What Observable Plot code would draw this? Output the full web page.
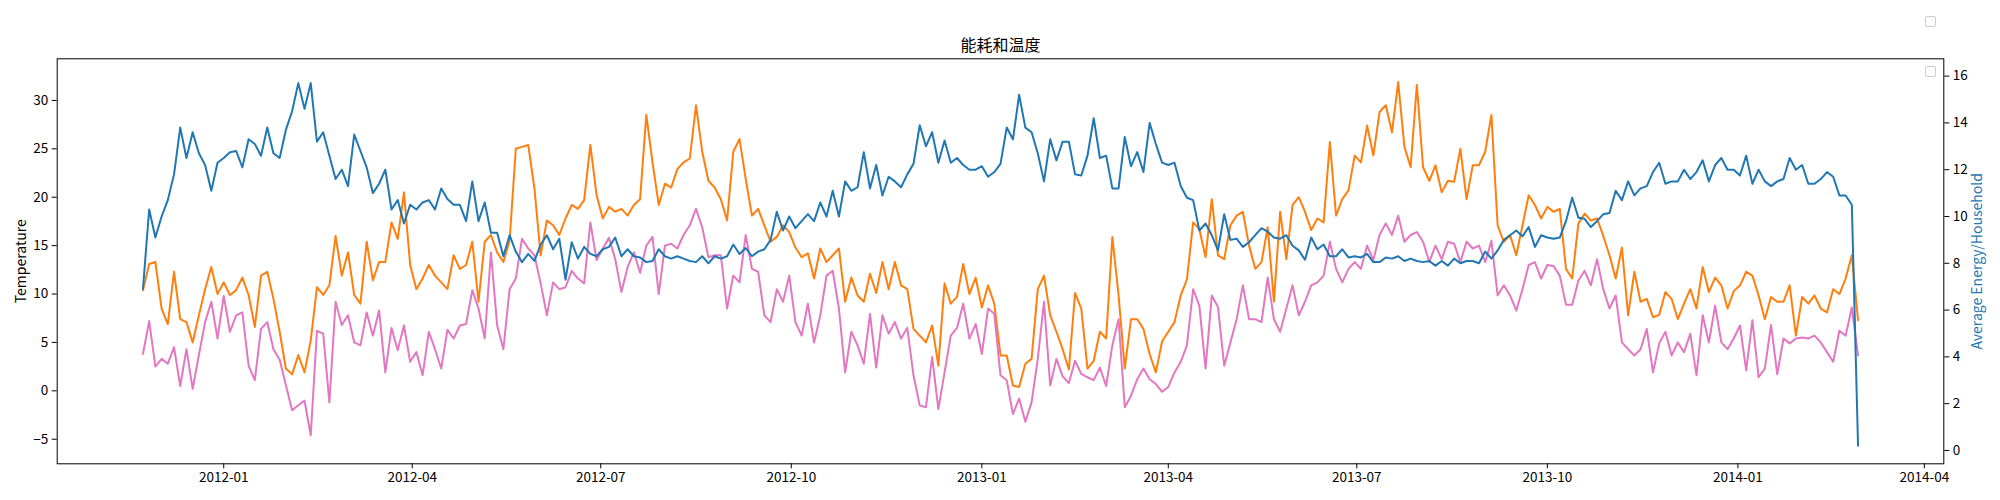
<!DOCTYPE html>
<html><head><meta charset="utf-8">
<script src="https://cdn.jsdelivr.net/npm/d3@7"></script>
<script src="https://cdn.jsdelivr.net/npm/@observablehq/plot@0.6"></script>
<style>
body{margin:0;background:#fff;}
#wrap{position:relative;width:2000px;height:500px;font-family:"Noto Sans CJK SC",sans-serif;}
#wrap svg{position:absolute;left:0;top:0;}
.lg{position:absolute;width:11px;height:11px;box-sizing:border-box;border:1px solid #cccccc;border-radius:2px;background:#fff;}
</style></head><body><div id="wrap"></div>
<script>
// ---- data (sampled every 3 days from 2011-11-23 to 2014-02-28) ----
const startDate = "2011-11-23";
const stepDays = 3;
const titleText = "能耗和温度";
const leftLabel = "Temperature";
const rightLabel = "Average Energy/Household";

const energy = [
 6.9,10.3,9.1,10.0,10.7,11.8,13.8,12.5,13.6,12.7,
 12.2,11.1,12.3,12.5,12.75,12.8,12.1,13.3,13.1,12.6,
 13.8,12.7,12.5,13.7,14.5,15.7,14.6,15.7,13.2,13.6,
 12.6,11.6,12.0,11.3,13.5,12.8,12.1,11.0,11.4,12.0,
 10.3,10.7,9.7,10.5,10.3,10.6,10.7,10.3,11.2,10.75,
 10.5,10.5,9.8,11.5,9.8,10.6,9.3,9.3,8.3,9.2,
 8.5,8.05,8.4,8.1,8.8,9.2,8.6,9.05,7.3,8.9,
 8.2,8.7,8.4,8.3,8.6,8.7,9.1,8.3,8.6,8.3,
 8.25,8.05,8.1,8.6,8.3,8.2,8.3,8.2,8.1,8.05,
 8.3,8.0,8.3,8.2,8.3,8.8,8.4,8.65,8.3,8.5,
 8.6,9.0,10.2,9.4,10.0,9.5,9.8,10.1,9.8,10.6,
 10.0,11.1,10.0,11.5,11.1,11.25,12.75,11.2,12.2,10.9,
 11.7,11.5,11.25,11.8,12.25,13.9,13.0,13.6,12.3,13.25,
 12.3,12.5,12.2,12.0,12.0,12.15,11.7,11.9,12.25,13.8,
 13.3,15.2,13.8,13.6,12.7,11.5,13.3,12.4,13.2,13.2,
 11.8,11.75,12.6,14.2,12.5,12.6,11.2,11.2,13.4,12.15,
 12.75,11.9,14.0,13.1,12.3,12.2,12.3,11.3,10.8,10.7,
 9.4,9.7,9.2,8.55,10.1,9.0,9.05,8.7,8.9,9.2,
 9.5,9.35,9.1,9.05,9.2,8.75,8.55,8.15,9.1,8.6,
 8.8,8.3,8.3,8.6,8.25,8.3,8.25,8.4,8.05,8.05,
 8.25,8.2,8.3,8.1,8.2,8.1,8.05,8.1,7.9,8.1,
 7.9,8.2,8.0,8.1,8.1,8.0,8.5,8.2,8.55,9.0,
 9.2,9.4,9.15,9.55,8.7,9.2,9.1,9.05,9.1,9.8,
 10.8,9.95,9.9,9.55,9.8,10.1,10.15,11.1,10.7,11.5,
 10.9,11.2,11.3,11.9,12.3,11.4,11.5,11.5,12.0,11.6,
 11.9,12.4,11.5,12.2,12.5,12.0,12.0,11.75,12.6,11.4,
 12.0,11.5,11.3,11.5,11.6,12.5,12.0,12.2,11.4,11.4,
 11.6,11.9,11.7,10.9,10.9,10.5,0.2
];

const tempMax = [
 10.4,13.1,13.3,8.5,6.9,12.3,7.4,7.1,5.0,7.8,
 10.5,12.8,10.0,11.2,9.9,10.4,11.7,9.9,6.6,11.9,
 12.3,9.5,6.1,2.3,1.7,3.7,1.9,5.2,10.7,9.9,
 10.9,16.0,11.9,14.3,9.9,9.0,15.4,11.4,13.3,13.3,
 17.4,15.7,20.5,13.0,10.5,11.6,13.0,11.9,11.2,10.5,
 14.0,12.6,13.0,15.4,9.2,15.4,16.1,14.3,13.3,15.5,
 25.0,25.2,25.4,20.9,14.0,17.6,17.1,16.1,17.8,19.2,
 18.8,19.7,25.4,20.2,17.8,19.0,18.5,18.8,18.1,19.2,
 19.8,28.5,23.6,19.2,21.4,21.0,22.9,23.6,24.0,29.5,
 24.7,21.7,21.0,19.8,17.6,24.7,26.0,21.9,18.1,18.8,
 17.1,15.4,15.9,17.1,16.4,14.8,13.8,14.2,11.6,14.7,
 13.3,14.0,14.7,9.2,11.7,9.85,9.2,12.1,10.1,13.3,
 10.5,13.3,10.9,10.5,6.4,5.7,5.0,6.75,2.6,11.1,
 9.0,9.7,13.1,10.0,11.7,8.6,10.9,9.0,3.65,3.65,
 0.55,0.4,2.8,3.3,10.5,11.9,7.8,6.1,4.3,2.2,
 10.1,8.5,2.3,3.1,6.1,5.4,15.9,9.85,2.3,7.4,
 7.4,6.4,3.8,1.9,5.1,6.1,7.1,9.85,11.5,17.4,
 16.7,13.8,19.8,14.0,13.6,17.1,18.1,18.5,15.0,12.6,
 13.3,16.9,9.2,18.5,13.6,19.2,20.0,18.5,16.6,17.8,
 17.4,25.7,18.1,19.8,20.7,24.3,23.6,27.4,24.3,28.8,
 29.5,26.7,31.9,25.2,23.1,31.6,23.1,21.7,23.3,20.5,
 21.7,21.6,25.0,19.8,23.3,23.3,24.7,28.5,17.1,15.4,
 16.1,14.0,17.1,20.2,19.2,17.8,19.0,18.5,18.8,12.6,
 11.6,17.3,18.3,17.6,17.8,16.0,14.0,11.6,14.8,7.8,
 12.3,9.2,9.5,7.6,7.85,10.2,9.5,7.4,9.0,10.5,
 8.5,12.8,10.2,11.7,10.9,8.5,10.3,10.9,12.3,11.9,
 9.85,7.4,9.7,9.2,9.2,10.9,5.7,9.7,9.0,9.85,
 8.5,8.1,10.5,10.0,11.6,14.0,7.3
];

const tempMin = [
 3.8,7.2,2.5,3.3,2.8,4.5,0.5,4.3,0.2,3.7,
 7.1,9.2,5.4,9.8,6.1,7.8,8.1,2.6,1.1,6.4,
 7.1,4.3,3.2,0.6,-2.0,-1.5,-1.0,-4.6,6.2,5.9,
 -1.2,9.2,6.8,7.8,5.0,4.7,8.1,5.7,8.3,1.9,
 6.5,4.2,6.75,3.0,4.0,1.6,6.1,4.3,2.3,6.3,
 5.4,6.75,6.9,10.4,8.5,5.4,14.3,6.75,4.3,10.5,
 11.6,15.7,14.7,14.0,11.1,7.8,11.2,10.5,10.7,12.4,
 11.6,11.1,17.4,13.5,14.7,15.8,13.6,10.2,12.8,14.3,
 12.2,15.0,15.9,10.0,15.0,15.2,14.7,16.1,17.1,18.8,
 16.9,13.8,14.0,14.0,8.5,11.9,11.2,16.1,12.6,12.3,
 7.8,7.1,10.5,9.2,11.9,7.1,5.7,9.0,5.0,7.8,
 11.9,12.4,8.5,1.9,6.1,4.7,2.8,7.95,2.4,7.8,
 5.9,7.1,5.4,6.5,1.6,-1.5,-1.7,3.5,-1.9,1.9,
 5.7,6.5,9.0,5.4,6.9,3.8,8.5,7.95,1.6,1.1,
 -2.4,-0.8,-3.2,-1.2,3.3,9.2,0.55,3.3,1.5,0.8,
 3.1,1.75,1.4,1.1,2.4,0.5,4.7,7.4,-1.7,-0.5,
 1.2,2.3,1.2,0.7,-0.1,0.4,1.9,3.0,4.7,10.5,
 8.8,2.3,9.85,8.65,2.6,5.0,7.4,10.9,7.4,7.4,
 7.1,11.7,7.4,6.1,8.5,10.9,7.8,9.2,10.9,11.2,
 11.9,15.4,12.6,11.2,12.6,13.3,12.6,15.0,13.5,16.1,
 17.3,16.1,18.1,15.4,16.1,16.4,15.4,13.3,15.0,13.6,
 15.4,15.2,13.3,15.4,14.7,15.0,13.3,15.5,9.85,10.9,
 9.85,8.3,10.5,13.0,13.3,11.6,13.0,12.9,11.9,8.9,
 8.9,11.4,12.4,10.9,13.6,10.5,8.5,9.85,5.0,4.3,
 3.65,4.3,6.4,1.9,4.9,6.1,3.65,5.0,4.0,5.9,
 1.6,7.8,5.0,8.8,5.0,4.3,5.4,6.75,2.1,7.3,
 1.4,2.3,6.8,1.7,5.4,4.9,5.4,5.5,5.4,5.7,
 5.0,4.0,3.0,6.2,5.7,8.6,3.65
];

const leftTicks = [-5, 0, 5, 10, 15, 20, 25, 30];
const rightTicks = [0, 2, 4, 6, 8, 10, 12, 14, 16];
const xTickLabels = ["2012-01","2012-04","2012-07","2012-10","2013-01","2013-04","2013-07","2013-10","2014-01","2014-04"];

// ---- build tables ----
const DAY = 864e5;
const t0 = Date.parse(startDate + "T00:00:00Z");
const toRows = arr => arr.map((v, i) => ({date: new Date(t0 + i * stepDays * DAY), v}));
const energyRows = toRows(energy);
const maxRows = toRows(tempMax);
const minRows = toRows(tempMin);
const spanDays = (energy.length - 1) * stepDays;
const pad = spanDays * 0.05;
const xDomain = [new Date(t0 - pad * DAY), new Date(t0 + (spanDays + pad) * DAY)];
const xTicks = xTickLabels.map(s => new Date(s + "-01T00:00:00Z"));

const W = 2000, H = 500, mL = 56.7, mR = 56.7, mT = 58.3, mB = 36.7;
const FONT = '"Noto Sans CJK SC", sans-serif';

const p1 = Plot.plot({
  width: W, height: H, marginLeft: mL, marginRight: mR, marginTop: mT, marginBottom: mB,
  style: {fontFamily: FONT, fontSize: "13.5px", color: "#000", background: "transparent", overflow: "visible"},
  x: {type: "utc", domain: xDomain},
  y: {domain: [-7.54, 34.3]},
  marks: [
    Plot.axisX({ticks: xTicks, tickFormat: d3.utcFormat("%Y-%m"), tickSize: 5, tickPadding: 4, label: null}),
    Plot.axisY({ticks: leftTicks, tickSize: 5, tickPadding: 4, label: null}),
    Plot.lineY(maxRows, {x: "date", y: "v", stroke: "#ff7f0e", strokeWidth: 2}),
    Plot.lineY(minRows, {x: "date", y: "v", stroke: "#e377c2", strokeWidth: 2}),
    Plot.frame({stroke: "#000", strokeWidth: 1}),
    Plot.text([leftLabel], {text: d => d, frameAnchor: "left", dx: -36, rotate: -90, textAnchor: "middle", lineAnchor: "middle", fontSize: 14, fill: "#000"}),
    Plot.text([titleText], {text: d => d, frameAnchor: "top", dy: -13, textAnchor: "middle", lineAnchor: "middle", fontSize: 16, fill: "#000"})
  ]
});

const p2 = Plot.plot({
  width: W, height: H, marginLeft: mL, marginRight: mR, marginTop: mT, marginBottom: mB,
  style: {fontFamily: FONT, fontSize: "13.5px", color: "#000", background: "none", overflow: "visible"},
  x: {type: "utc", domain: xDomain, axis: null},
  y: {domain: [-0.57, 16.74]},
  marks: [
    Plot.axisY({anchor: "right", ticks: rightTicks, tickSize: 5, tickPadding: 4, label: null}),
    Plot.lineY(energyRows, {x: "date", y: "v", stroke: "#1f77b4", strokeWidth: 2}),
    Plot.text([rightLabel], {text: d => d, frameAnchor: "right", dx: 33.7, rotate: -90, textAnchor: "middle", lineAnchor: "middle", fontSize: 14, fill: "#1f77b4"})
  ]
});

const wrap = document.getElementById("wrap");
wrap.appendChild(p1);
wrap.appendChild(p2);
for (const top of [15.5, 65.5]) {
  const b = document.createElement("div");
  b.className = "lg";
  b.style.left = "1925px";
  b.style.top = top + "px";
  wrap.appendChild(b);
}
</script>
</body></html>
